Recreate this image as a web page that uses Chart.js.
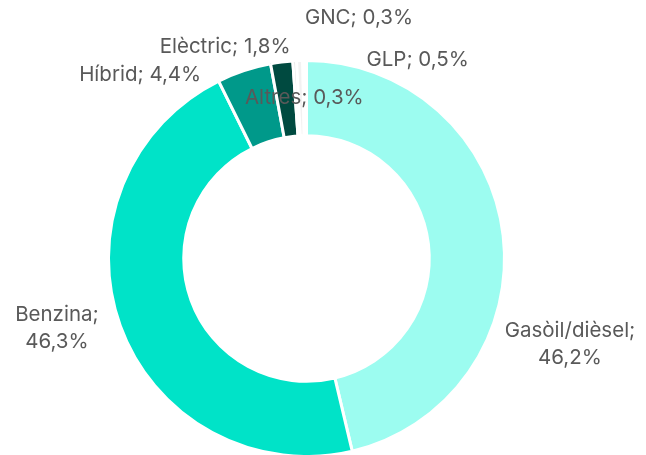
<!DOCTYPE html>
<html lang="ca">
<head>
    <meta charset="UTF-8">
    <title>Parc per combustible</title>
    <script src="https://cdn.jsdelivr.net/npm/chart.js"></script>
    <style>
        body { margin: 0; background: #fff; }
        #wrap { width: 646px; height: 455px; }
    </style>
</head>
<body>
    <div id="wrap"><canvas id="donut"></canvas></div>

    <script>
        // data
        const categories = ['Gasòil/dièsel', 'Benzina', 'Híbrid', 'Elèctric', 'GNC', 'GLP', 'Altres'];
        const shares = [46.2, 46.3, 4.4, 1.8, 0.3, 0.5, 0.3];
        const shareLabels = ['46,2%', '46,3%', '4,4%', '1,8%', '0,3%', '0,5%', '0,3%'];

        const colours = ['#9cfcf0', '#00e3c8', '#00998a', '#004a40', '#d9d9d9', '#f2f2f2', '#ffffff'];
        // label nudges from the default spot just outside each slice
        const labelNudge = [[39, 112], [-37, -7], [-95, 31], [-53, 13], [66, -15], [119, 27], [0, 65]];
        const twoLines = [true, true, false, false, false, false, false];

        const labelPlugin = {
            id: 'sliceLabels',
            afterDatasetsDraw(chart) {
                const ctx = chart.ctx;
                const arcs = chart.getDatasetMeta(0).data;
                ctx.save();
                ctx.font = '20.5px Inter, "Open Sans", sans-serif';
                ctx.fillStyle = '#595959';
                ctx.textAlign = 'center';
                ctx.textBaseline = 'middle';
                arcs.forEach((arc, i) => {
                    const p = arc.getProps(['x', 'y', 'startAngle', 'endAngle', 'outerRadius'], true);
                    const mid = (p.startAngle + p.endAngle) / 2;
                    const r = p.outerRadius + 28;
                    const x = p.x + r * Math.cos(mid) + labelNudge[i][0];
                    const y = p.y + r * Math.sin(mid) + labelNudge[i][1];
                    if (twoLines[i]) {
                        ctx.fillText(categories[i] + ';', x, y - 13.5);
                        ctx.fillText(shareLabels[i], x, y + 13.5);
                    } else {
                        ctx.fillText(categories[i] + '; ' + shareLabels[i], x, y);
                    }
                });
                ctx.restore();
            }
        };

        new Chart(document.getElementById('donut'), {
            type: 'doughnut',
            data: {
                labels: categories,
                datasets: [{
                    data: shares,
                    backgroundColor: colours,
                    borderColor: '#ffffff',
                    borderWidth: 3
                }]
            },
            options: {
                responsive: true,
                maintainAspectRatio: false,
                animation: false,
                radius: 198,
                cutout: '62%',
                layout: { padding: { top: 62, right: 33, bottom: 0, left: 0 } },
                plugins: {
                    legend: { display: false },
                    tooltip: { enabled: false }
                }
            },
            plugins: [labelPlugin]
        });
    </script>
</body>
</html>
